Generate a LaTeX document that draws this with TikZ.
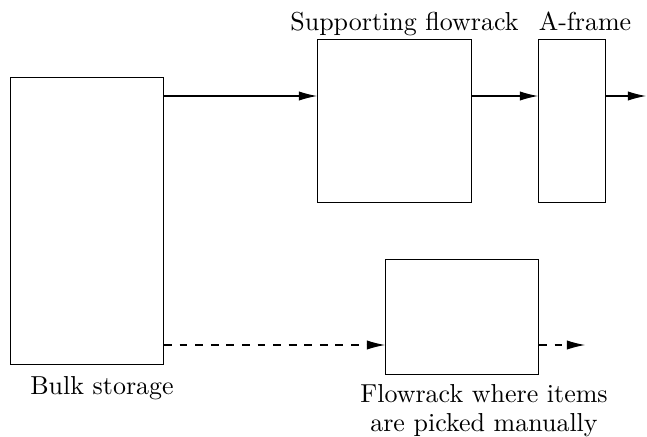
\documentclass[tikz,border=0pt]{standalone}
\usetikzlibrary{arrows.meta}

\newcommand\px{0.385pt}

\tikzset{
  rack/.style={draw, inner sep=0pt, anchor=north west},
  flow/.style={-{Latex[length=7pt,width=3.6pt]}},
  rackname/.style={anchor=base, inner sep=0pt},
}

\begin{document}
\begin{tikzpicture}[x=\px, y=-\px]
            \useasboundingbox (0,0) rectangle (647,436);
            \node[rack, minimum width=153*\px, minimum height=287*\px] (bulk) at (10,77) {};
            \node[rack, minimum width=154*\px, minimum height=163*\px] (support) at (317,39) {};
            \node[rack, minimum width=67*\px, minimum height=163*\px] (aframe) at (538,39) {};
            \node[rack, minimum width=153*\px, minimum height=115*\px] (manual) at (385,259) {};
            \node[rackname] (bulklbl) at (102,394) {Bulk storage};
            \node[rackname] (supportlbl) at (404.5,30) {Supporting flowrack};
            \node[rackname] (aframelbl) at (585,30) {A-frame};
            \node[rackname, align=center, font=\fontsize{10}{10.8}\selectfont] (manuallbl) at (484,431) {Flowrack where items\\are picked manually};
            \coordinate (toprow) at (0,96);
            \coordinate (botrow) at (0,345);
            \coordinate (outtop) at (646,96);
            \coordinate (outbot) at (585,345);
            \draw[flow] (bulk.east |- toprow) -- (support.west |- toprow);
            \draw[flow] (support.east |- toprow) -- (aframe.west |- toprow);
            \draw[flow] (aframe.east |- toprow) -- (outtop);
            \draw[flow, dashed] (bulk.east |- botrow) -- (manual.west |- botrow);
            \draw[flow, dashed] (manual.east |- botrow) -- (outbot);
        \end{tikzpicture}
\end{document}
